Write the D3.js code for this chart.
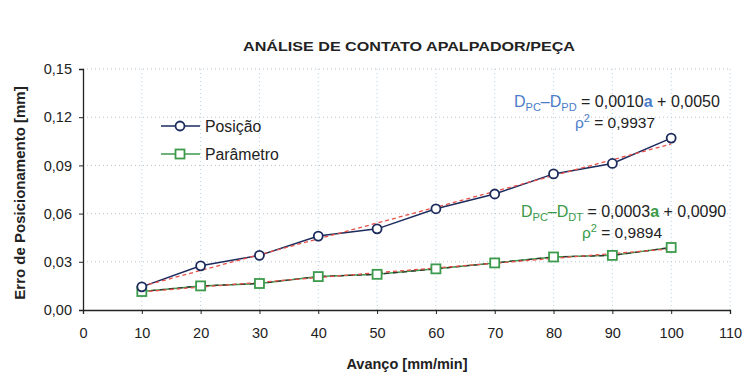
<!DOCTYPE html>
<html><head><meta charset="utf-8">
<script src="https://cdn.jsdelivr.net/npm/d3@7"></script>
<style>body{margin:0;background:#fff}svg{display:block}text{font-family:"Liberation Sans",Arial,sans-serif}</style>
</head><body><svg id="c" width="744" height="374"></svg>
<script>
const avanco = [10,20,30,40,50,60,70,80,90,100];
const posicao = [0.0144,0.0275,0.0340,0.0460,0.0505,0.0630,0.0722,0.0847,0.0912,0.1070];
const parametro = [0.0115,0.0150,0.0165,0.0208,0.0222,0.0256,0.0293,0.0330,0.0340,0.0389];
const xTicks = [0,10,20,30,40,50,60,70,80,90,100,110];
const yTicks = [0,0.03,0.06,0.09,0.12,0.15];
const seriesNames = ["Posição","Parâmetro"];

const svg = d3.select("#c");
const m = {l:83,r:730,t:69,b:310};
const x = d3.scaleLinear().domain([0,110]).range([m.l,m.r]);
const y = d3.scaleLinear().domain([0,0.15]).range([m.b,m.t]);
const fmt = d => d3.format(".2f")(d).replace(".",",");

// grid
svg.append("g").selectAll("line").data(yTicks.slice(1)).join("line")
  .attr("x1",m.l).attr("x2",m.r).attr("y1",d=>y(d)).attr("y2",d=>y(d))
  .attr("stroke","#b8c4d0").attr("stroke-width",1).attr("stroke-dasharray","1,3");
svg.append("g").selectAll("line").data(xTicks.slice(1)).join("line")
  .attr("x1",d=>x(d)).attr("x2",d=>x(d)).attr("y1",m.t).attr("y2",m.b)
  .attr("stroke","#b8d0e0").attr("stroke-width",1).attr("stroke-dasharray","1,3");

// axes
const ax = svg.append("g").attr("transform",`translate(0,${m.b})`)
  .call(d3.axisBottom(x).tickValues(xTicks).tickSize(4).tickPadding(14).tickFormat(d=>d));
const ay = svg.append("g").attr("transform",`translate(${m.l},0)`)
  .call(d3.axisLeft(y).tickValues(yTicks).tickSize(4).tickPadding(7).tickFormat(fmt));
[ax,ay].forEach(a=>{a.select(".domain").attr("stroke","#222").attr("stroke-width",1.3);
  a.selectAll(".tick line").attr("stroke","#222");
  a.selectAll("text").attr("font-size",14.5).attr("fill","#222").style("font-family","Liberation Sans, Arial");});

// regression
function fit(xs,ys){const n=xs.length,mx=d3.mean(xs),my=d3.mean(ys);
  let sxy=0,sxx=0;for(let i=0;i<n;i++){sxy+=(xs[i]-mx)*(ys[i]-my);sxx+=(xs[i]-mx)**2;}
  const b=sxy/sxx;return [b,my-b*mx];}
const line = d3.line().x(d=>x(d[0])).y(d=>y(d[1]));
const navy="#1c2b5c", green="#3c9a4c", red="#e8504a";

function drawSeries(vals,color,markerType,overlayDark){
  const pts = avanco.map((a,i)=>[a,vals[i]]);
  svg.append("path").datum(pts).attr("d",line).attr("fill","none").attr("stroke",color).attr("stroke-width",1.5);
  if(overlayDark) svg.append("path").datum(pts).attr("d",line).attr("fill","none").attr("stroke","#333").attr("stroke-width",1.3).attr("stroke-dasharray","5,4");
  const [b,a0]=fit(avanco,vals);
  svg.append("path").datum([[avanco[0],a0+b*avanco[0]],[avanco[avanco.length-1],a0+b*avanco[avanco.length-1]]])
    .attr("d",line).attr("fill","none").attr("stroke",red).attr("stroke-width",1.3).attr("stroke-dasharray","4,3");
  const g=svg.append("g");
  if(markerType==="circle"){
    g.selectAll("circle").data(pts).join("circle").attr("cx",d=>x(d[0])).attr("cy",d=>y(d[1])).attr("r",4.5)
      .attr("fill","#fff").attr("stroke",color).attr("stroke-width",1.8);
  } else {
    g.selectAll("rect").data(pts).join("rect").attr("x",d=>x(d[0])-4.5).attr("y",d=>y(d[1])-4.5).attr("width",9).attr("height",9)
      .attr("fill","#fff").attr("stroke",color).attr("stroke-width",1.8);
  }
}
drawSeries(parametro,green,"rect",true);
drawSeries(posicao,navy,"circle",false);

// legend
const leg=[{n:seriesNames[0],c:navy,t:"circle",y:126},{n:seriesNames[1],c:green,t:"rect",y:154}];
leg.forEach(l=>{
  svg.append("line").attr("x1",161).attr("x2",200).attr("y1",l.y).attr("y2",l.y).attr("stroke",l.c).attr("stroke-width",1.5);
  if(l.t==="circle") svg.append("circle").attr("cx",180).attr("cy",l.y).attr("r",4.5).attr("fill","#fff").attr("stroke",l.c).attr("stroke-width",1.8);
  else svg.append("rect").attr("x",175.5).attr("y",l.y-4.5).attr("width",9).attr("height",9).attr("fill","#fff").attr("stroke",l.c).attr("stroke-width",1.8);
  svg.append("text").attr("x",205).attr("y",l.y+5.5).attr("font-size",15.8).attr("fill","#222").text(l.n);
});

// title and labels
svg.append("text").attr("x",409).attr("y",51).attr("text-anchor","middle").attr("font-size",12.5).attr("font-weight","bold")
  .attr("fill","#222").attr("textLength",332).attr("lengthAdjust","spacingAndGlyphs").text("ANÁLISE DE CONTATO APALPADOR/PEÇA");
svg.append("text").attr("transform","translate(25,193) rotate(-90)").attr("text-anchor","middle").attr("font-size",15).attr("font-weight","bold")
  .attr("fill","#222").text("Erro de Posicionamento [mm]");
svg.append("text").attr("x",407).attr("y",369).attr("text-anchor","middle").attr("font-size",14.5).attr("font-weight","bold")
  .attr("fill","#222").text("Avanço [mm/min]");

// equations
const blue="#4a7cc8", geq="#3a9a48";
function eq(xp,yp,col,s1,s2,c1,c2,r2x,r2){
  const t=svg.append("text").attr("x",xp).attr("y",yp).attr("font-size",16).attr("fill","#222");
  t.append("tspan").attr("fill",col).text("D");
  t.append("tspan").attr("fill",col).attr("font-size",11).attr("dy",4).text(s1);
  t.append("tspan").attr("fill",col).attr("dy",-4).text("–D");
  t.append("tspan").attr("fill",col).attr("font-size",11).attr("dy",4).text(s2);
  t.append("tspan").attr("dy",-4).text(" = "+c1);
  t.append("tspan").attr("fill",col).attr("font-weight","bold").text("a");
  t.append("tspan").text(" + "+c2);
  const r=svg.append("text").attr("x",r2x).attr("y",yp+21).attr("font-size",15.5).attr("fill","#222");
  r.append("tspan").attr("fill",col).text("ρ");
  r.append("tspan").attr("fill",col).attr("font-size",11).attr("dy",-6).text("2");
  r.append("tspan").attr("dy",6).text(" = "+r2);
}
eq(514,107,blue,"PC","PD","0,0010","0,0050",575,"0,9937");
eq(521,217,geq,"PC","DT","0,0003","0,0090",582,"0,9894");
</script></body></html>
